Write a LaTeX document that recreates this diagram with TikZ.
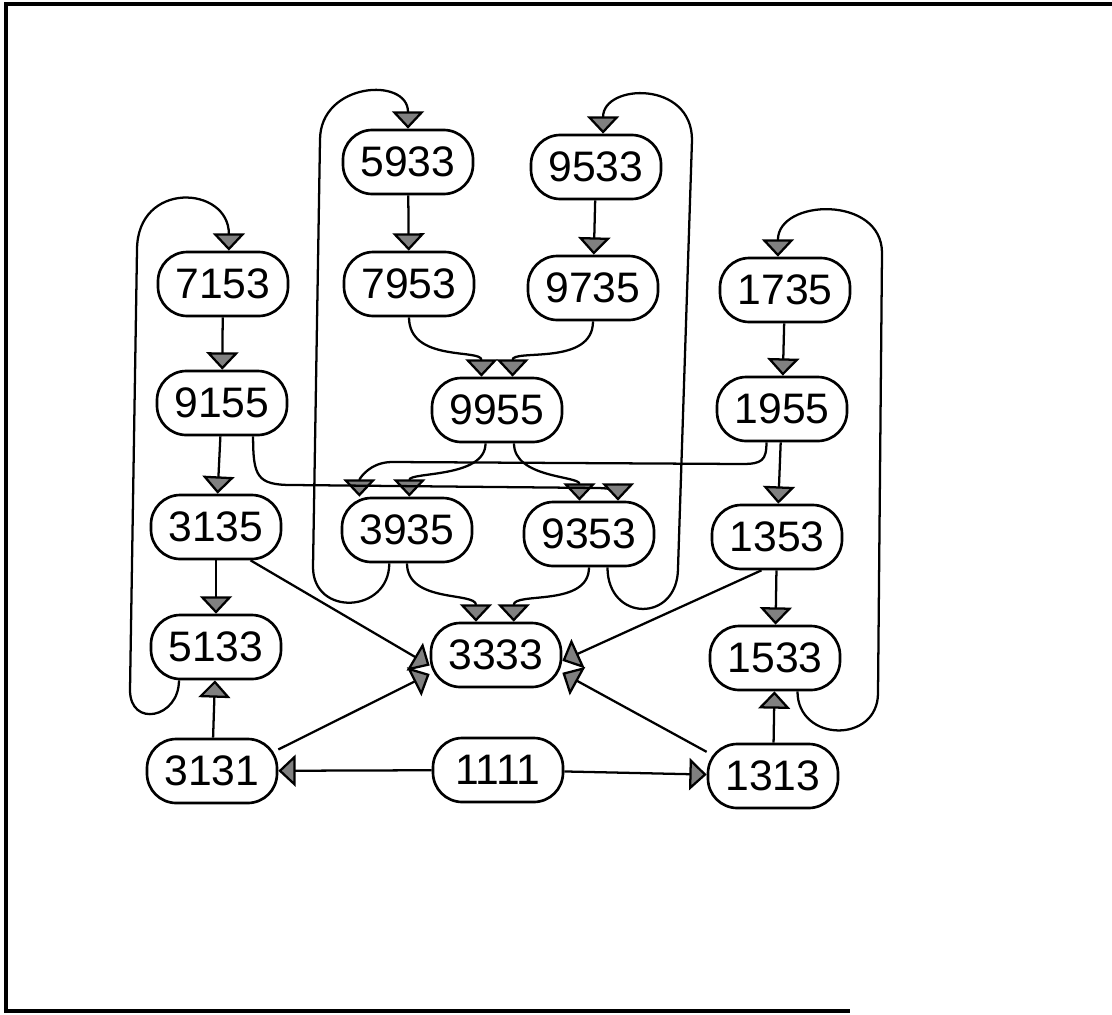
\documentclass[tikz,border=0pt]{standalone}
\usepackage{fontspec}
\setmainfont{Liberation Sans}
\usetikzlibrary{arrows.meta}
\begin{document}
\begin{tikzpicture}[x=0.75pt,y=-0.75pt,
  state/.style={draw,line width=2pt,rounded corners=22pt,minimum width=97.5pt,
    minimum height=48pt,inner sep=0pt,font=\fontsize{32}{34}\selectfont},
  conn/.style={line width=1.7pt,-{Triangle[width=24pt,length=13pt,fill=black!50]}},
  frame/.style={line width=2.6pt}]
\useasboundingbox (0,0) rectangle (1112,1014);
\draw[frame] (1112,4) -- (6,4) -- (6,1011) -- (850,1011);

\node[state] (n5933) at (408,162) {5933};
\node[state] (n9533) at (596,167) {9533};
\node[state] (n7153) at (223,284) {7153};
\node[state] (n7953) at (409,284) {7953};
\node[state] (n9735) at (593,288) {9735};
\node[state] (n1735) at (785,290) {1735};
\node[state] (n9155) at (222,403) {9155};
\node[state] (n9955) at (497,410) {9955};
\node[state] (n1955) at (782,409) {1955};
\node[state] (n3135) at (216,527) {3135};
\node[state] (n3935) at (407,530) {3935};
\node[state] (n9353) at (589,534) {9353};
\node[state] (n1353) at (777,537) {1353};
\node[state] (n5133) at (216,647) {5133};
\node[state] (n3333) at (496,655) {3333};
\node[state] (n1533) at (775,658) {1533};
\node[state] (n3131) at (212,771) {3131};
\node[state] (n1111) at (498,770) {1111};
\node[state] (n1313) at (773,776) {1313};

% straight connectors
\draw[conn] (n5933) -- (n7953);
\draw[conn] (n9533) -- (n9735);
\draw[conn] (n7153) -- (n9155);
\draw[conn] (n1735) -- (n1955);
\draw[conn] (n9155) -- (n3135);
\draw[conn] (n1955) -- (n1353);
\draw[conn] (n3135) -- (n5133);
\draw[conn] (n3131) -- (n5133);
\draw[conn] (n1353) -- (n1533);
\draw[conn] (n1313) -- (n1533);
\draw[conn] (n1111) -- (n3131);
\draw[conn] (n1111) -- (n1313);

% diagonals into 3333
\draw[conn] (n3135.-44) -- (n3333.189);
\draw[conn] (n3131.18) -- (n3333.196);
\draw[conn] (n1353.245) -- (n3333.-5);
\draw[conn] (n1313.160) -- (n3333.-15);

% S-curves
\draw[conn] (n7953.south) .. controls +(0,45) and +(0,-28) .. (n9955.115);
\draw[conn] (n9735.south) .. controls +(0,45) and +(0,-28) .. (n9955.65);
\draw[conn] (n9955.251) .. controls +(0,35) and +(0,-25) .. (n3935.86);
\draw[conn] (n9955.297) .. controls +(0,35) and +(0,-25) .. (n9353.106);
\draw[conn] (n3935.south) .. controls +(0,40) and +(0,-30) .. (n3333.121);
\draw[conn] (n9353.south) .. controls +(0,40) and +(0,-30) .. (n3333.62);

% long crossing routes
\draw[conn] (n1955.245) .. controls +(0,18) and +(20,0) .. (742,464) -- (392,462)
  .. controls +(-22,0) and +(0,-18) .. (n3935.145);
\draw[conn] (n9155.313) .. controls +(0,40) and +(-35,0) .. (292,485) -- (598,488)
  .. controls +(14,0) and +(0,-8) .. (n9353.49);

% loops
\draw[conn] (n3935.242) .. controls +(0,50) and +(0,50) .. (313,567) -- (320,140)
  .. controls +(0,-58) and +(0,-52) .. (n5933.north);
\draw[conn] (n9353.299) .. controls +(0,55) and +(0,55) .. (678,568) -- (692,140)
  .. controls +(0,-60) and +(0,-50) .. (n9533.78);
\draw[conn] (n5133.222) .. controls +(0,38) and +(0,38) .. (130,690) -- (137,250)
  .. controls +(0,-70) and +(0,-65) .. (n7153.80);
\draw[conn] (n1533.304) .. controls +(0,51) and +(0,51) .. (878,693) -- (882,253)
  .. controls +(0,-58) and +(0,-58) .. (n1735.102);
\end{tikzpicture}
\end{document}
